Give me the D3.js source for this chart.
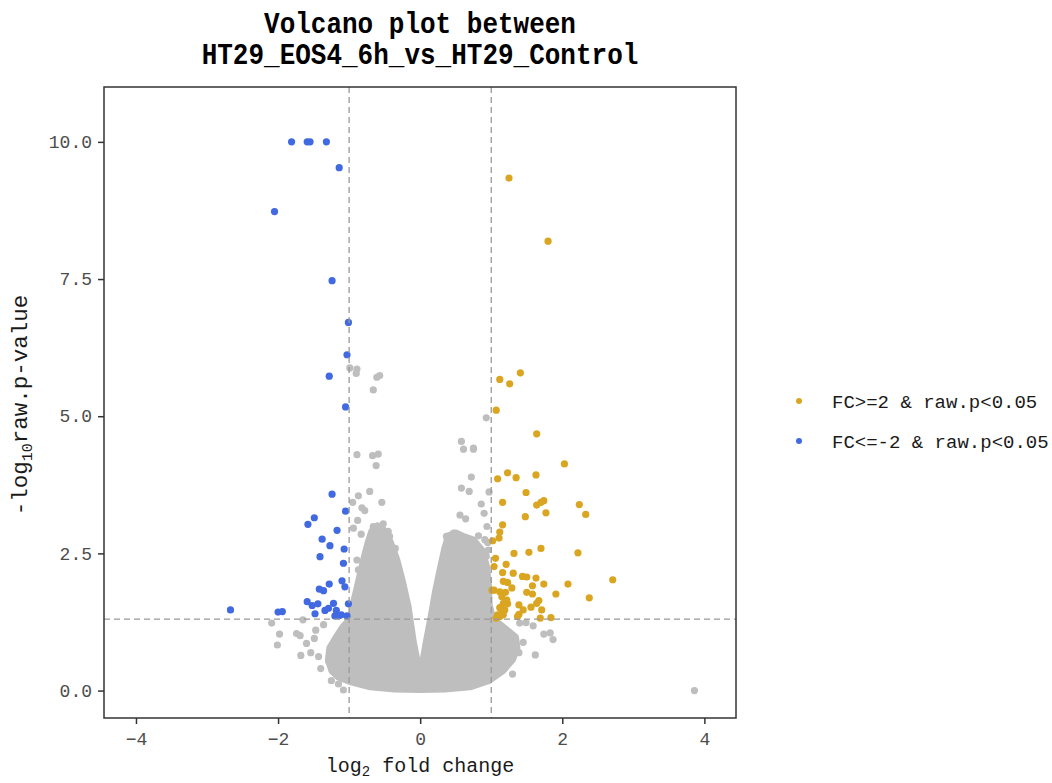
<!DOCTYPE html>
<html>
<head>
<meta charset="utf-8">
<script src="https://cdn.jsdelivr.net/npm/d3@7"></script>
<style>
  html, body { margin: 0; padding: 0; background: #ffffff; }
  svg { display: block; }
</style>
</head>
<body>
<svg id="chart" width="1052" height="783"></svg>
<script>
// ---------------- data (log2 fold change, -log10 raw p) ----------------
const titleLines = ["Volcano plot between", "HT29_EOS4_6h_vs_HT29_Control"];
const xTicks = [-4, -2, 0, 2, 4];
const yTicks = [0, 2.5, 5, 7.5, 10];
const legendLabels = ["FC>=2 & raw.p<0.05", "FC<=-2 & raw.p<0.05"];

// down-regulated (blue)
const downX = [-1.81,-1.59,-1.55,-1.32,-1.14,-2.05,-1.24,-1.01,-1.03,-1.28,-1.05,
  -2.67,-2.00,-1.94,-1.24,-1.05,-1.49,-1.58,-1.17,-1.38,-1.27,-1.07,-1.41,-1.08,
  -1.10,-1.28,-1.06,-1.42,-1.36,-1.59,-1.52,-1.44,-1.22,-1.01,-1.48,-1.34,-1.29,
  -1.18,-1.20,-1.15,-1.11,-1.03];
const downY = [10.0,10.0,10.0,10.0,9.53,8.73,7.47,6.71,6.12,5.73,5.17,
  1.47,1.43,1.44,3.58,3.27,3.15,3.03,2.92,2.76,2.64,2.58,2.44,2.32,
  2.00,1.94,1.89,1.85,1.82,1.62,1.55,1.58,1.59,1.58,1.40,1.46,1.50,
  1.46,1.36,1.36,1.38,1.36];

// up-regulated (gold)
const upX = [1.25,1.80,1.41,1.12,1.26,1.07,1.64,2.03,1.09,1.23,1.35,1.63,1.49,1.16,
  1.64,1.74,1.70,1.77,1.48,2.24,2.33,1.16,1.12,1.11,1.02,1.32,1.53,1.70,2.22,
  1.06,1.04,1.21,1.16,1.31,1.44,1.50,1.63,1.17,1.23,1.58,1.74,2.08,2.71,
  1.04,1.12,1.20,1.29,1.50,1.58,1.91,2.38,1.15,1.22,1.17,1.23,1.12,1.19,1.15,
  1.09,1.12,1.07,1.17,1.39,1.45,1.39,1.37,1.56,1.64,1.67,1.71,1.69,1.84,1.01];
const upY = [9.34,8.19,5.79,5.67,5.59,5.11,4.68,4.13,3.86,3.97,3.88,3.93,3.61,3.43,
  3.38,3.46,3.43,3.24,3.17,3.39,3.21,3.02,2.89,2.78,2.73,2.50,2.52,2.59,2.51,
  2.41,2.26,2.30,2.15,2.14,2.08,2.07,2.05,1.99,1.97,1.91,1.94,1.94,2.02,
  1.83,1.80,1.79,1.87,1.79,1.76,1.76,1.69,1.71,1.65,1.59,1.58,1.51,1.47,1.41,
  1.38,1.35,1.32,1.38,1.56,1.47,1.39,1.35,1.52,1.59,1.64,1.47,1.32,1.33,1.83];

// not significant, scattered outside the dense cloud (grey)
const nsX = [-0.99,-0.89,-0.90,-0.61,-0.57,-0.66,0.93,0.75,
  -0.89,-0.67,-0.59,-0.62,-0.87,-0.71,-0.54,-0.95,-0.82,-0.78,-0.94,-0.88,-0.83,
  -0.66,-0.52,-0.45,-0.43,-0.35,-0.89,-0.87,
  -2.09,-1.98,-2.01,-1.74,-1.69,-1.65,-1.68,-1.54,-1.43,-1.60,-1.47,-1.49,-1.29,-1.08,-1.06,
  -1.36,-1.40,-1.25,-1.15,
  0.58,0.61,0.75,0.72,0.58,0.69,0.97,0.86,0.90,0.56,0.64,0.94,0.82,0.95,0.93,
  0.37,0.47,0.91,0.96,0.77,0.72,
  1.40,1.49,1.59,1.74,1.83,1.87,1.62,1.36,1.39,1.18,1.19,1.45,1.30,3.86];
const nsY = [5.88,5.86,5.78,5.71,5.74,5.48,4.97,4.42,
  4.30,4.28,4.31,4.10,3.55,3.63,3.43,3.43,3.33,3.28,2.96,3.10,2.85,
  2.99,3.04,2.90,2.81,2.59,2.38,2.20,
  1.23,1.03,0.83,1.04,1.00,1.29,0.64,0.69,0.62,0.86,1.10,0.95,0.54,0.01,0.31,
  1.20,0.40,0.18,0.12,
  4.54,4.40,4.40,3.89,3.69,3.63,3.62,3.40,3.23,3.20,3.13,2.99,2.82,2.70,2.45,
  2.81,2.87,2.75,2.56,2.50,2.65,
  1.23,1.24,1.18,1.03,1.05,0.93,0.65,0.75,0.69,0.50,0.41,0.88,0.30,0.00];

// outline of the dense cloud of non-significant genes (point centres)
const cloudX = [-1.15,-1.24,-1.29,-1.27,-1.17,-1.08,-0.97,-0.94,-0.89,-0.84,-0.78,-0.73,
  -0.68,-0.60,-0.52,-0.42,-0.33,-0.25,-0.17,-0.10,0.00,0.09,0.16,0.22,0.29,0.35,0.40,
  0.50,0.62,0.75,0.87,0.93,0.96,0.97,1.02,1.20,1.34,1.36,1.30,1.16,0.96,0.70,0.35,0.00,
  -0.36,-0.70,-0.97];
const cloudY = [0.25,0.36,0.56,0.78,0.99,1.17,1.32,1.58,1.85,2.13,2.46,2.70,
  2.90,3.00,2.93,2.70,2.38,1.98,1.52,0.90,0.24,0.90,1.38,1.82,2.25,2.60,2.82,
  2.87,2.80,2.74,2.55,2.27,1.92,1.56,1.31,1.12,0.97,0.79,0.57,0.36,0.18,0.07,0.03,0.02,
  0.03,0.07,0.16];

// ---------------- drawing ----------------
const COL_UP = "#DAA520", COL_DOWN = "#4169E1", COL_NS = "#BEBEBE";
const svg = d3.select("#chart");
const L = 104, R = 736, T = 87, B = 718;
const x = d3.scaleLinear().domain([-4.45, 4.445]).range([L, R]);
const y = d3.scaleLinear().domain([-0.5, 11.0]).range([B, T]);
const mono = "'Liberation Mono', 'DejaVu Sans Mono', monospace";
const r = 3.6;

svg.append("rect").attr("x", 0).attr("y", 0).attr("width", 1052).attr("height", 783).attr("fill", "#fff");

const clipId = "clipPanel";
svg.append("clipPath").attr("id", clipId).append("rect")
  .attr("x", L).attr("y", T).attr("width", R - L).attr("height", B - T);
const plot = svg.append("g").attr("clip-path", `url(#${clipId})`);

// dense cloud
const cloudPts = cloudX.map((v, i) => [v, cloudY[i]]);
plot.append("path")
  .attr("d", d3.line().x(d => x(d[0])).y(d => y(d[1])).curve(d3.curveLinearClosed)(cloudPts))
  .attr("fill", COL_NS).attr("stroke", COL_NS).attr("stroke-width", 2 * r).attr("stroke-linejoin", "round");

function dots(xs, ys, col) {
  plot.append("g").selectAll("circle").data(xs.map((v, i) => [v, ys[i]])).join("circle")
    .attr("cx", d => x(d[0])).attr("cy", d => y(d[1])).attr("r", r).attr("fill", col);
}
dots(nsX, nsY, COL_NS);
dots(upX, upY, COL_UP);
dots(downX, downY, COL_DOWN);

// threshold lines
const dash = "6,4";
[-1, 1].forEach(v => {
  plot.append("line").attr("x1", x(v)).attr("x2", x(v)).attr("y1", T).attr("y2", B)
    .attr("stroke", "#999").attr("stroke-width", 1.3).attr("stroke-dasharray", dash);
});
plot.append("line").attr("x1", L).attr("x2", R).attr("y1", y(-Math.log10(0.05))).attr("y2", y(-Math.log10(0.05)))
  .attr("stroke", "#999").attr("stroke-width", 1.3).attr("stroke-dasharray", dash);

// panel border
svg.append("rect").attr("x", L).attr("y", T).attr("width", R - L).attr("height", B - T)
  .attr("fill", "none").attr("stroke", "#333").attr("stroke-width", 1.5);

// axes
const xAxis = svg.append("g").attr("transform", `translate(0,${B})`)
  .call(d3.axisBottom(x).tickValues(xTicks).tickSize(6).tickPadding(4).tickFormat(d3.format("d")));
const yAxis = svg.append("g").attr("transform", `translate(${L},0)`)
  .call(d3.axisLeft(y).tickValues(yTicks).tickSize(6).tickPadding(6).tickFormat(d3.format(".1f")));
[xAxis, yAxis].forEach(g => {
  g.select(".domain").remove();
  g.selectAll(".tick line").attr("stroke", "#333").attr("stroke-width", 1.5);
  g.selectAll(".tick text").attr("fill", "#4D4D4D").style("font-family", mono).style("font-size", "18px");
});
xAxis.selectAll(".tick text").attr("dy", "0.95em");

// title (slightly tall glyphs as in the reference)
svg.append("g").selectAll("text").data(titleLines).join("text")
  .attr("transform", (d, i) => `translate(${(L + R) / 2},${33 + i * 31}) scale(1,1.12)`)
  .attr("text-anchor", "middle").attr("fill", "#000")
  .style("font-family", mono).style("font-weight", "bold").style("font-size", "26px")
  .text(d => d);

// x label
const xl = svg.append("text").attr("x", (L + R) / 2).attr("y", 772).attr("text-anchor", "middle")
  .attr("fill", "#1a1a1a").style("font-family", mono).style("font-size", "20px");
xl.append("tspan").text("log");
xl.append("tspan").attr("dy", 4).style("font-size", "14px").text("2");
xl.append("tspan").attr("dy", -4).text(" fold change");

// y label
const yl = svg.append("text").attr("transform", `translate(27,405) rotate(-90)`)
  .attr("text-anchor", "middle").attr("fill", "#1a1a1a").style("font-family", mono).style("font-size", "22.5px");
yl.append("tspan").text("-log");
yl.append("tspan").attr("dy", 5).style("font-size", "15px").text("10");
yl.append("tspan").attr("dy", -5).text("raw.p-value");

// legend
const leg = svg.append("g");
const legCols = [COL_UP, COL_DOWN];
legendLabels.forEach((t, i) => {
  const cy = 401 + i * 40;
  leg.append("circle").attr("cx", 799).attr("cy", cy).attr("r", 3).attr("fill", legCols[i]);
  leg.append("text").attr("x", 832).attr("y", cy).attr("dy", "0.35em").attr("fill", "#1a1a1a")
    .style("font-family", mono).style("font-size", "19px").text(t);
});
</script>
</body>
</html>
